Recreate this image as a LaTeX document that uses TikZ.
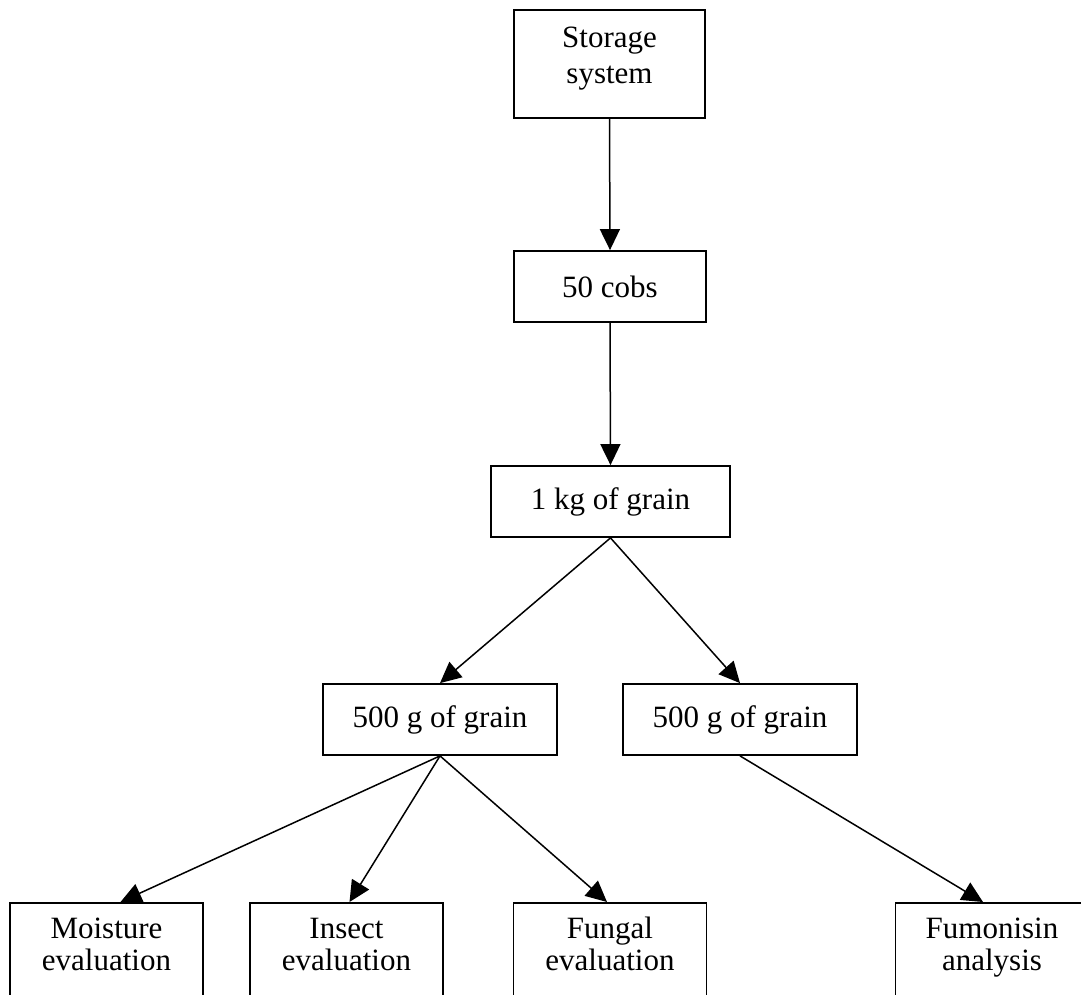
\documentclass[tikz,border=0pt]{standalone}
\usepackage{fontspec}
\setmainfont{Liberation Serif}
\usetikzlibrary{arrows.meta,calc}
\begin{document}
\begin{tikzpicture}[x=0.5pt,y=-0.5pt,
  box/.style={draw, line width=0.9pt, align=center, inner sep=0pt,
    font=\fontsize{15.5}{16}\selectfont},
  topbox/.style={draw, line width=0.9pt, inner sep=0pt, anchor=north,
    font=\fontsize{15.5}{16}\selectfont},
  lowbox/.style={topbox, minimum width=96.5pt, text height=18pt, text depth=32pt},
  arr/.style={line width=0.75pt, -{Triangle[length=10.5pt,width=10pt]}}]
\useasboundingbox (0,0) rectangle (1081,995);
\clip (0,0) rectangle (1081,995);
\node[topbox, minimum width=95.5pt, text height=19pt, text depth=35pt,
  font=\fontsize{15.5}{18}\selectfont] (storage) at (609.5,9)
  {\begin{tabular}[t]{@{}c@{}}Storage\\system\end{tabular}};
\node[box, minimum width=96pt, minimum height=35.5pt] (cobs) at (610,286.5) {50 cobs};
\node[box, minimum width=119.5pt, minimum height=35.5pt] (kg) at (610.5,501.5) {1 kg of grain};
\node[box, minimum width=117pt, minimum height=35.5pt] (gL) at (440,719.5) {500 g of grain};
\node[box, minimum width=117pt, minimum height=35.5pt] (gR) at (740,719.5) {500 g of grain};
\node[lowbox] (moist) at (106.5,902) {\begin{tabular}[t]{@{}c@{}}Moisture\\evaluation\end{tabular}};
\node[lowbox] (insect) at (346.5,902) {\begin{tabular}[t]{@{}c@{}}Insect\\evaluation\end{tabular}};
\node[lowbox] (fungal) at (610,902) {\begin{tabular}[t]{@{}c@{}}Fungal\\evaluation\end{tabular}};
\node[lowbox] (fumo) at (992,902) {\begin{tabular}[t]{@{}c@{}}Fumonisin\\analysis\end{tabular}};
\draw[arr] (storage.south) -- (cobs.north);
\draw[arr] (cobs.south) -- (kg.north);
\draw[arr] (kg.south) -- (gL.north);
\draw[arr] (kg.south) -- (gR.north);
\draw[arr] (gL.south) -- ($(moist.north)+(14,0)$);
\draw[arr] (gL.south) -- ($(insect.north)+(3,0)$);
\draw[arr] (gL.south) -- ($(fungal.north)+(-3,0)$);
\draw[arr] (gR.south) -- ($(fumo.north)+(-9,0)$);
\end{tikzpicture}
\end{document}
